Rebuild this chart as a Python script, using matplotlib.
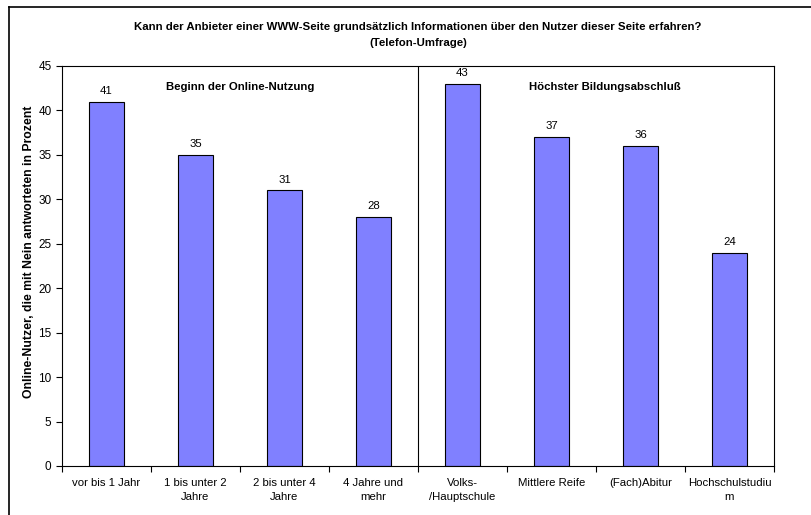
import matplotlib.pyplot as plt
from matplotlib.lines import Line2D

plt.rcParams['font.family'] = ['Liberation Sans', 'DejaVu Sans']

# Categories and values (Online-Nutzer, die mit Nein antworteten, in Prozent)
categories = [
    "vor bis 1 Jahr", "1 bis unter 2\nJahre", "2 bis unter 4\nJahre", "4 Jahre und\nmehr",
    "Volks-\n/Hauptschule", "Mittlere Reife", "(Fach)Abitur", "Hochschulstudiu\nm",
]
values = [41, 35, 31, 28, 43, 37, 36, 24]
group_labels = ["Beginn der Online-Nutzung", "Höchster Bildungsabschluß"]

W, H = 812, 515
fig = plt.figure(figsize=(W / 100, H / 100), dpi=100)
ax = fig.add_axes([62 / W, 1 - 466 / H, 712 / W, 400 / H])

x = list(range(len(values)))
ax.bar(x, values, width=0.39, color='#8080FF', edgecolor='black', linewidth=0.8)
for xi, v in zip(x, values):
    ax.text(xi, v + 1.2, str(v), ha='center', va='center', fontsize=8.2)

ax.set_xlim(-0.5, len(values) - 0.5)
ax.set_ylim(0, 45)
ax.set_yticks(range(0, 46, 5))
ax.set_xticks([i - 0.5 for i in range(len(values) + 1)])
ax.set_xticklabels([])
ax.set_xticks(x, minor=True)
ax.set_xticklabels(categories, minor=True, fontsize=8.2, linespacing=1.45)
ax.tick_params(axis='x', which='minor', length=0, pad=9)
ax.tick_params(axis='x', which='major', length=4, direction='out')
ax.tick_params(axis='y', length=4, direction='out', labelsize=8.5)

for s in ax.spines.values():
    s.set_linewidth(0.8)

# divider between the two groups
ax.axvline(3.5, color='black', linewidth=0.8)
ax.text(1.5, 42.6, group_labels[0], ha='center', va='center', fontsize=8.2, fontweight='bold')
ax.text(5.6, 42.6, group_labels[1], ha='center', va='center', fontsize=8.2, fontweight='bold')

fig.text(29 / W, 1 - 252 / H, "Online-Nutzer, die mit Nein antworteten in Prozent",
         rotation=90, ha='center', va='center', fontsize=8.8, fontweight='bold')

fig.text(418 / W, 1 - 27 / H,
         "Kann der Anbieter einer WWW-Seite grundsätzlich Informationen über den Nutzer dieser Seite erfahren?",
         ha='center', va='center', fontsize=8.2, fontweight='bold')
fig.text(418 / W, 1 - 43 / H, "(Telefon-Umfrage)", ha='center', va='center',
         fontsize=8.2, fontweight='bold')

# outer chart border (left and top edges only are inside the picture)
fig.lines.append(Line2D([9 / W, 9 / W], [0, 1 - 7 / H], transform=fig.transFigure,
                        color='black', linewidth=1.2))
fig.lines.append(Line2D([9 / W, 1], [1 - 7 / H, 1 - 7 / H], transform=fig.transFigure,
                        color='black', linewidth=1.2))

fig.savefig("out.png", dpi=100)
